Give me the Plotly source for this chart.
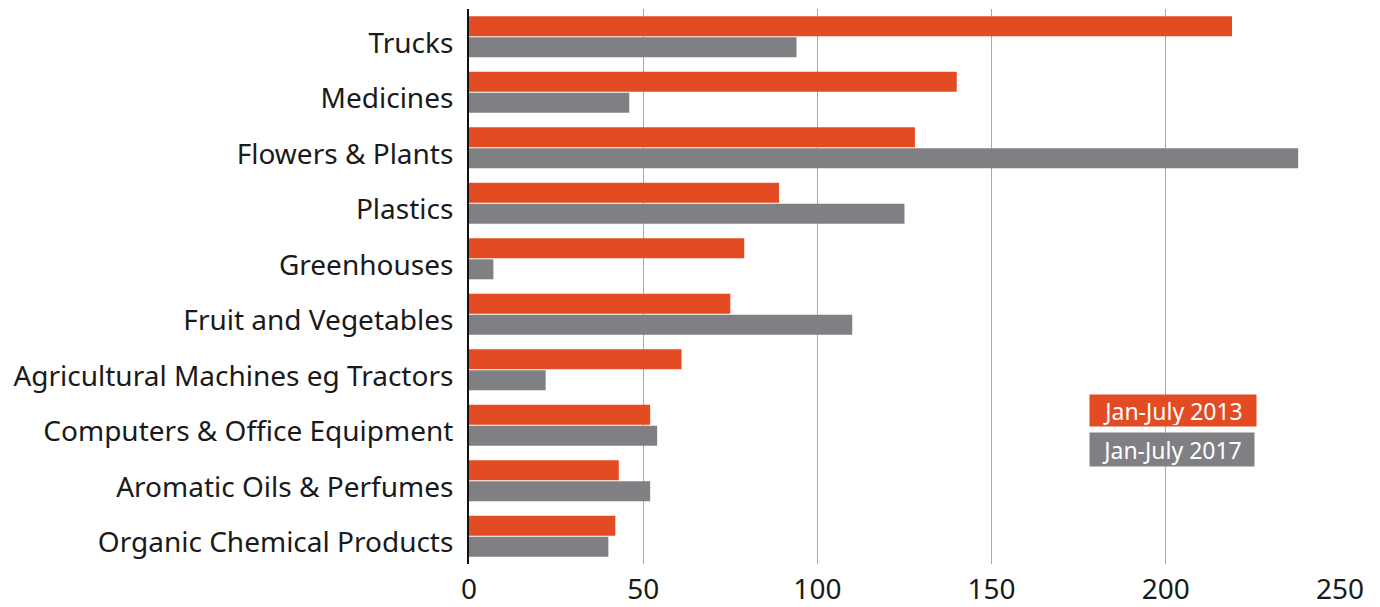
import plotly.graph_objects as go

categories = ["Trucks", "Medicines", "Flowers & Plants", "Plastics", "Greenhouses",
              "Fruit and Vegetables", "Agricultural Machines eg Tractors",
              "Computers & Office Equipment", "Aromatic Oils & Perfumes",
              "Organic Chemical Products"]
jan_july_2013 = [219, 140, 128, 89, 79, 75, 61, 52, 43, 42]
jan_july_2017 = [94, 46, 238, 125, 7, 110, 22, 54, 52, 40]
series_names = ["Jan-July 2013", "Jan-July 2017"]
x_ticks = [0, 50, 100, 150, 200, 250]

ORANGE = "#E34C22"
GREY = "#808084"
FONT = "Noto Sans"

fig = go.Figure()
fig.add_trace(go.Bar(y=categories, x=jan_july_2013, orientation="h",
                     marker=dict(color=ORANGE, line=dict(width=0)), name=series_names[0]))
fig.add_trace(go.Bar(y=categories, x=jan_july_2017, orientation="h",
                     marker=dict(color=GREY, line=dict(width=0)), name=series_names[1]))

fig.update_layout(
    width=1380, height=607,
    margin=dict(l=469, r=40, t=9, b=43),
    paper_bgcolor="white", plot_bgcolor="white",
    barmode="group", bargap=0.24, bargroupgap=0.05,
    showlegend=False,
    font=dict(family=FONT, color="#1a1a1a"),
)
fig.update_xaxes(range=[0, 250], tickvals=x_ticks, showgrid=True,
                 gridcolor="#a8a8a8", gridwidth=1, zeroline=False,
                 showline=False, tickfont=dict(size=28, color="#1a1a1a"),
                 ticklabelstandoff=6, fixedrange=True, automargin=False)
fig.update_yaxes(autorange="reversed", showline=True, linecolor="#111111", linewidth=2,
                 showgrid=False, ticks="", tickfont=dict(size=28, color="#1a1a1a"),
                 ticklabelstandoff=8, ticklabelshift=-6, automargin=False, fixedrange=True)

W, H = 871, 555
fig.add_annotation(xref="paper", yref="paper", x=(1173 - 469) / W, y=1 - (410.5 - 9) / H,
                   text=series_names[0], showarrow=False, bgcolor=ORANGE,
                   font=dict(size=23, color="white", family=FONT), borderpad=1,
                   width=164, height=29, xanchor="center", yanchor="middle")
fig.add_annotation(xref="paper", yref="paper", x=(1172 - 469) / W, y=1 - (449.5 - 9) / H,
                   text=series_names[1], showarrow=False, bgcolor=GREY,
                   font=dict(size=23, color="white", family=FONT), borderpad=1,
                   width=162, height=31, xanchor="center", yanchor="middle")

fig.write_html("out.html", post_script="document.body.style.margin='0px';",
               config={"displayModeBar": False})
